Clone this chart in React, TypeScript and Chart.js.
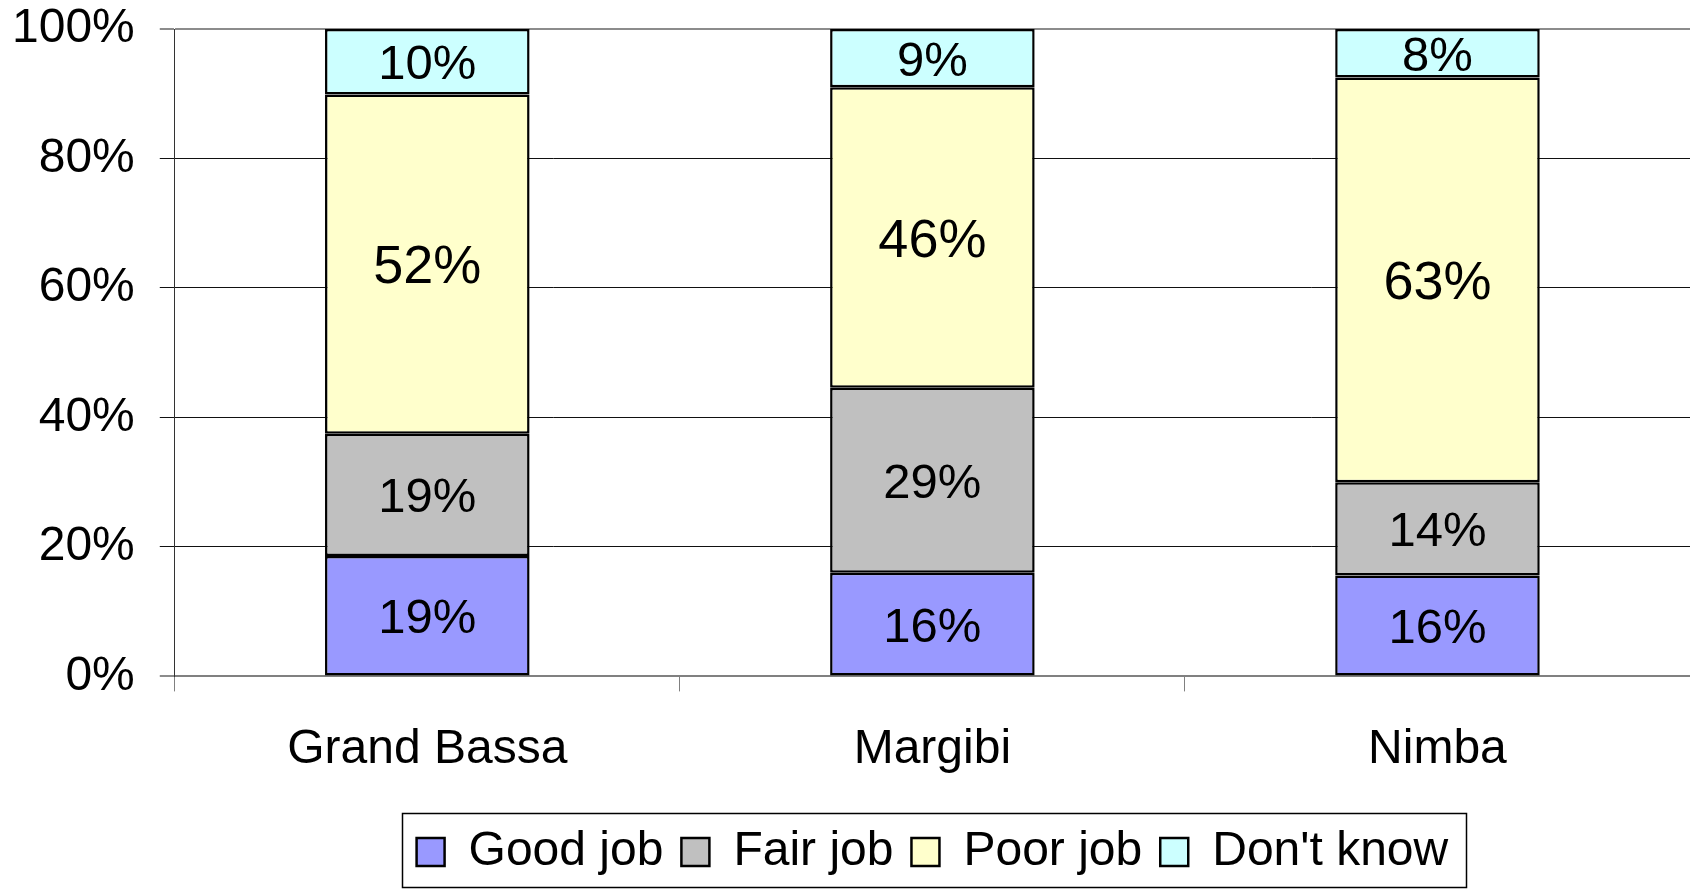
import React, { useEffect, useRef } from "react";
import { Chart, registerables } from "chart.js";

Chart.register(...registerables);

const FONT = "'Liberation Sans', Arial, Helvetica, sans-serif";

const categories = ["Grand Bassa", "Margibi", "Nimba"];
const seriesNames = ["Good job", "Fair job", "Poor job", "Don't know"];
const goodJob = [18.6, 16.0, 15.6];
const fairJob = [18.9, 28.6, 14.4];
const poorJob = [52.4, 46.4, 62.5];
const dontKnow = [10.1, 9.0, 7.5];
const yTicks = [0, 20, 40, 60, 80, 100];
const seriesColors = ["#9999FF", "#C0C0C0", "#FFFFCC", "#CCFFFF"];

const seriesValues = [goodJob, fairJob, poorJob, dontKnow];

const segmentLabels = {
  id: "segmentLabels",
  afterDatasetsDraw(chart: any) {
    const ctx = chart.ctx;
    chart.data.datasets.forEach((ds: any, di: number) => {
      const meta = chart.getDatasetMeta(di);
      const size = di === 2 ? 54 : 49;
      ctx.save();
      ctx.font = `${size}px ${FONT}`;
      ctx.fillStyle = "#000";
      ctx.textAlign = "center";
      ctx.textBaseline = "alphabetic";
      meta.data.forEach((el: any, i: number) => {
        const { x, y, base } = el.getProps(["x", "y", "base"], true);
        const mid = (y + base) / 2;
        ctx.fillText(Math.round(ds.data[i]) + "%", x, mid + size * 0.358);
      });
      ctx.restore();
    });
  },
};

const legendFrame = {
  id: "legendFrame",
  afterDraw(chart: any) {
    const hb = chart.legend && chart.legend.legendHitBoxes;
    if (!hb || !hb.length) return;
    const ctx = chart.ctx;
    const left = Math.min(...hb.map((h: any) => h.left)) - 15;
    const right = Math.max(...hb.map((h: any) => h.left + h.width)) + 17;
    const top = Math.min(...hb.map((h: any) => h.top)) - 15;
    const bottom = Math.max(...hb.map((h: any) => h.top + h.height)) + 11;
    ctx.save();
    ctx.strokeStyle = "#000";
    ctx.lineWidth = 1.5;
    ctx.strokeRect(Math.round(left) + 0.5, Math.round(top) + 0.5, Math.round(right - left), Math.round(bottom - top));
    ctx.restore();
  },
};

export default function App() {
  const canvasRef = useRef<HTMLCanvasElement | null>(null);

  useEffect(() => {
    if (!canvasRef.current) return;
    const chart = new Chart(canvasRef.current, {
      type: "bar",
      data: {
        labels: categories,
        datasets: seriesNames.map((name, i) => ({
          label: name,
          data: seriesValues[i],
          backgroundColor: seriesColors[i],
          borderColor: "#000",
          borderWidth: 2.5,
          borderSkipped: false,
          categoryPercentage: 1,
          barPercentage: 0.405,
        })),
      },
      options: {
        responsive: false,
        animation: false,
        layout: { padding: { left: 12, top: 29, right: 0, bottom: 5 } },
        scales: {
          x: {
            stacked: true,
            grid: {
              offset: true,
              drawOnChartArea: false,
              drawTicks: true,
              tickLength: 15,
              color: "#808080",
              lineWidth: 1,
            },
            border: { color: "#808080", width: 2 },
            ticks: {
              color: "#000",
              font: { size: 48, family: FONT },
              padding: 30,
              maxRotation: 0,
            },
            afterFit: (s: any) => {
              s.height += 1;
              s.paddingLeft = 0;
              s.paddingRight = 0;
            },
          },
          y: {
            stacked: true,
            min: 0,
            max: 100,
            afterBuildTicks: (axis: any) => {
              axis.ticks = yTicks.map((v) => ({ value: v }));
            },
            ticks: {
              color: "#000",
              font: { size: 48, family: FONT },
              padding: 25,
              callback: (v: any) => v + "%",
            },
            afterFit: (s: any) => {
              s.width -= 25;
              s.paddingTop = 0;
              s.paddingBottom = 0;
            },
            grid: {
              color: (c: any) => (c.tick && (c.tick.value === 100 || c.tick.value === 0) ? "#8c8c8c" : "#111"),
              lineWidth: (c: any) => (c.tick && (c.tick.value === 100 || c.tick.value === 0) ? 2 : 1),
              tickLength: 15,
            },
            border: { color: "#333", width: 1 },
          },
        },
        plugins: {
          legend: {
            position: "bottom",
            fullSize: false,
            labels: {
              boxWidth: 28,
              boxHeight: 28,
              padding: 18,
              color: "#000",
              font: { size: 48, family: FONT },
            },
          },
          tooltip: { enabled: false },
        },
      },
      plugins: [segmentLabels, legendFrame],
    } as any);
    return () => chart.destroy();
  }, []);

  return (
    <div style={{ position: "absolute", left: 0, top: 0, width: 1690, height: 891, background: "#fff" }}>
      <canvas ref={canvasRef} width={1690} height={891} style={{ display: "block" }} />
    </div>
  );
}
